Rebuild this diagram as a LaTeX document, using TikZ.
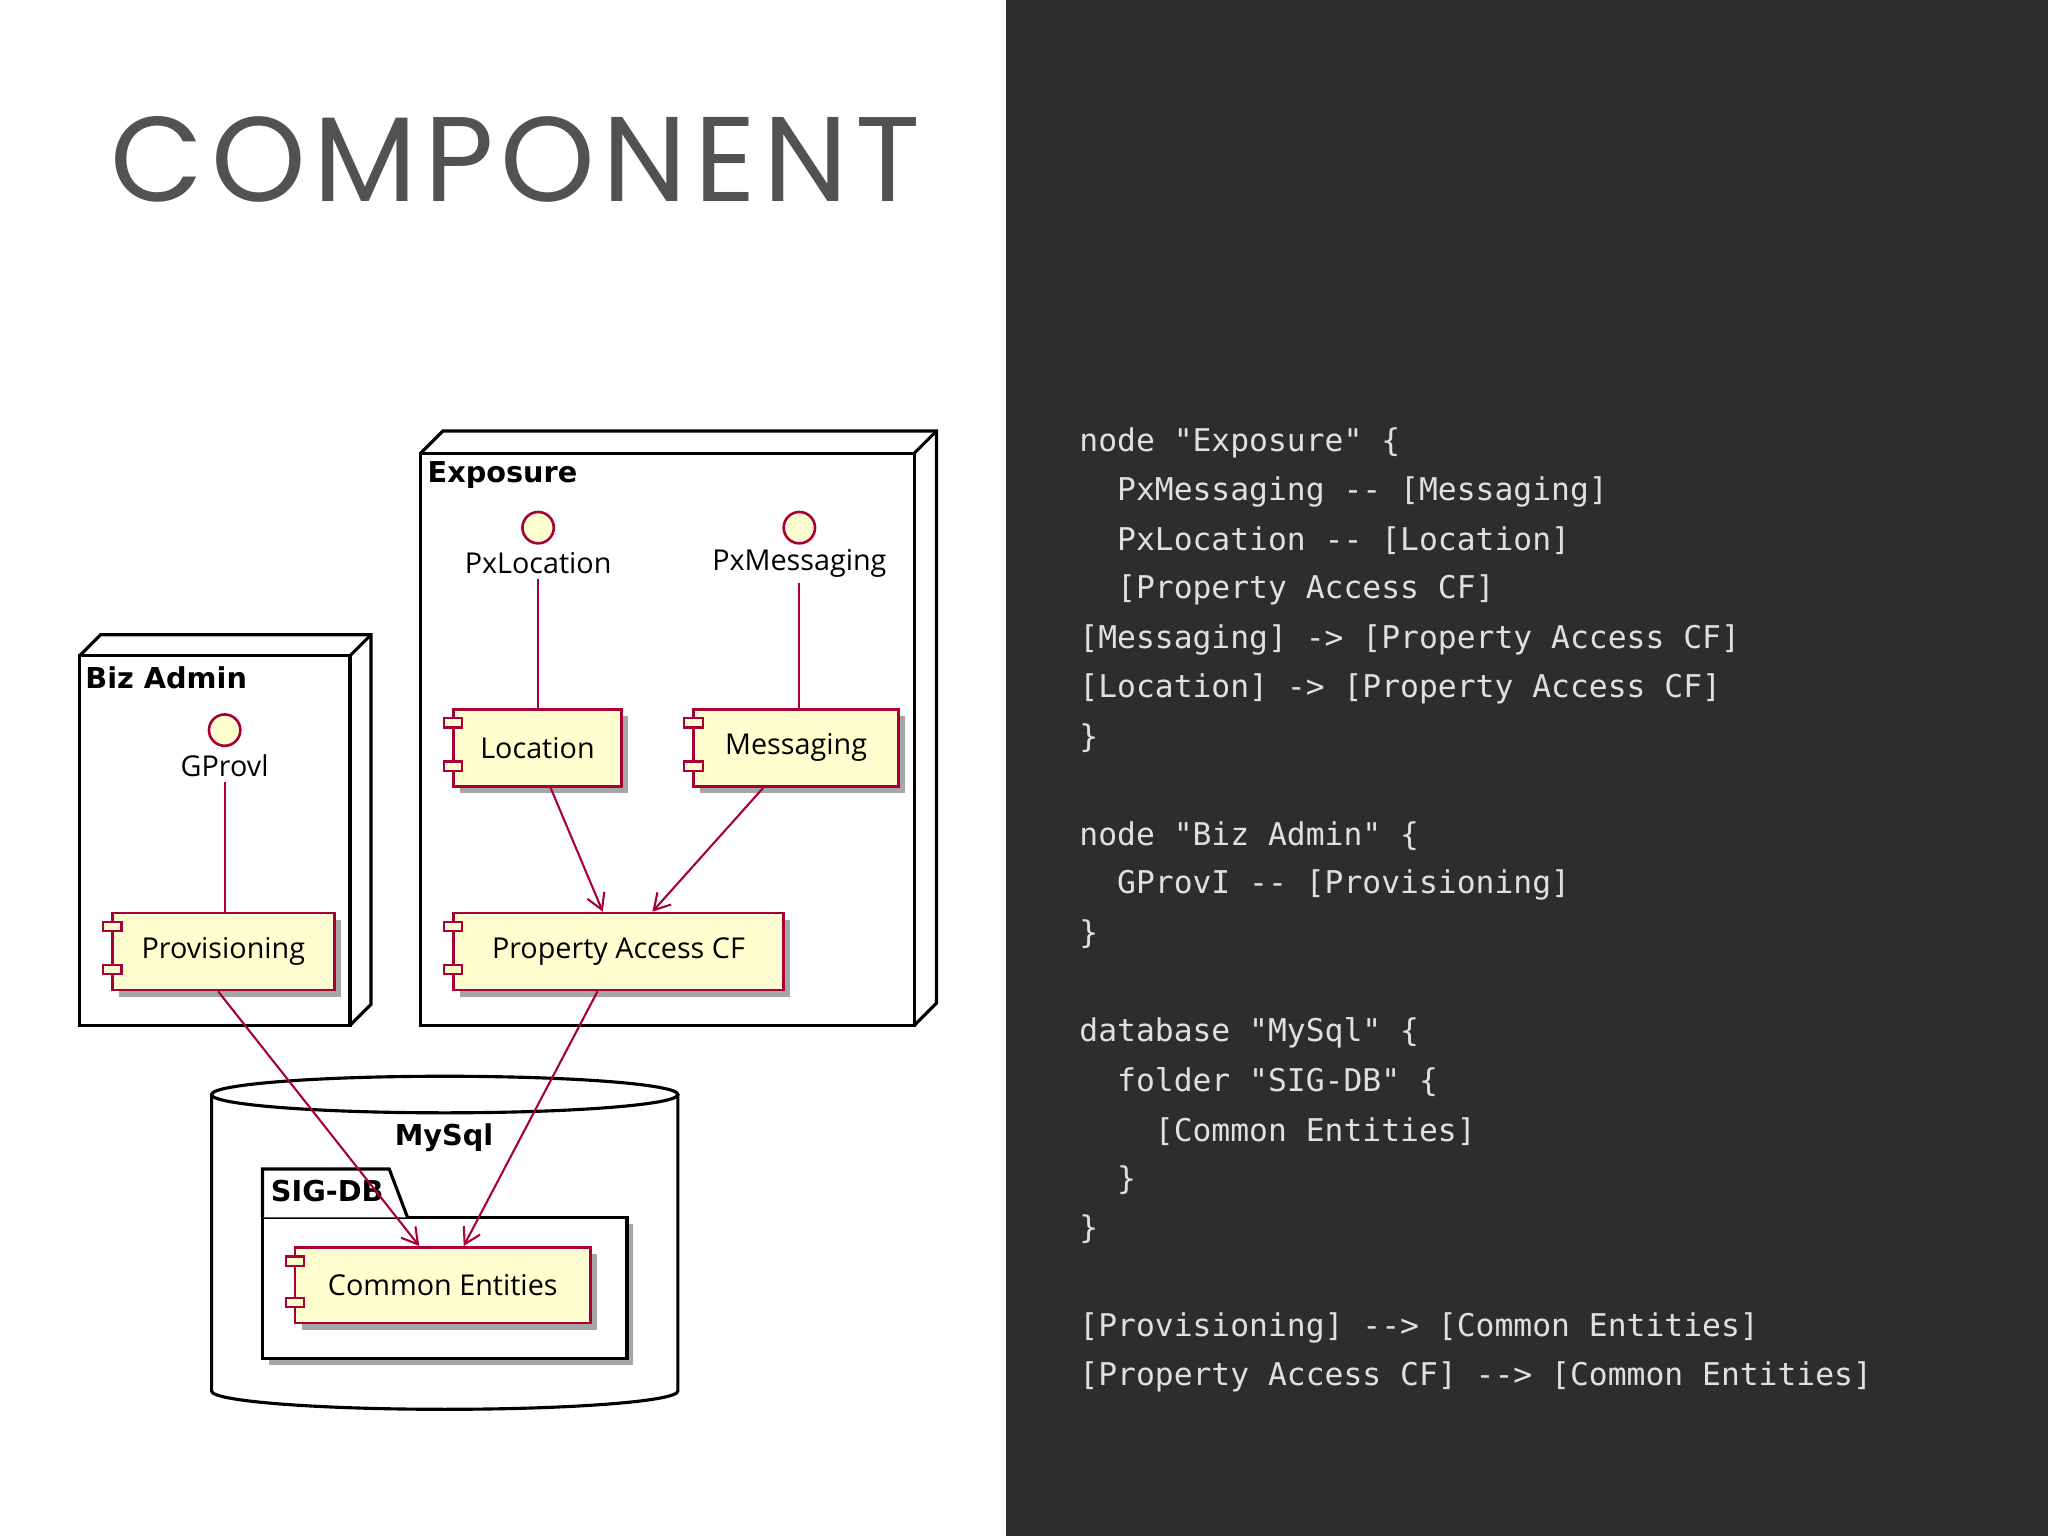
\documentclass[tikz,border=0pt]{standalone}
\usepackage{fontspec}
\setmainfont{Open Sans}
\newfontfamily\boldf{DejaVu Sans}
\newfontfamily\codef{DejaVu Sans Mono}
\newfontfamily\titlef[LetterSpace=6]{Poppins}
\usetikzlibrary{shadows,arrows.meta}
\definecolor{cred}{HTML}{A80036}
\definecolor{cyel}{HTML}{FEFECE}
\definecolor{dark}{HTML}{2D2D2D}
\tikzset{
 comp/.style={draw=cred,fill=cyel,line width=1pt,drop shadow={shadow xshift=2.5pt,shadow yshift=-2.5pt,fill=black!35,opacity=1},font=\fontsize{11}{13}\selectfont,inner sep=0pt},
 tiny/.style={draw=cred,fill=cyel,line width=0.8pt},
 box/.style={draw=black,fill=white,line width=1.2pt},
 link/.style={cred,line width=0.8pt},
 arr/.style={cred,line width=0.8pt,-{Straight Barb[length=6pt,width=7pt]}},
 iface/.style={circle,draw=cred,fill=cyel,line width=1pt,minimum size=12pt,inner sep=0pt},
 ilab/.style={font=\fontsize{11}{13}\selectfont,inner sep=0pt},
 ttl/.style={font=\boldf\bfseries\fontsize{11}{13}\selectfont,anchor=west,inner sep=0pt},
 code/.style={font=\codef\fontsize{12}{14}\selectfont,text=white!88!black,anchor=west,inner sep=0pt}
}
\newcommand\comp[6]{%
 \node[comp,minimum width={(#4-#2)*0.5pt},minimum height={(#5-#3)*0.5pt}] (#1) at ({(#2+#4)/2},{(#3+#5)/2}) {#6};
 \draw[tiny] (#2-7,#3+7) rectangle (#2+7,#3+14);
 \draw[tiny] (#2-7,#5-19) rectangle (#2+7,#5-12);
}
\begin{document}
\begin{tikzpicture}[x=0.5pt,y=-0.5pt]
\fill[white] (0,0) rectangle (770,1176);
\fill[dark] (770,0) rectangle (1568,1176);
\node[text=black!68,inner sep=0pt] (title) at (395,122) {\resizebox{310pt}{!}{\titlef\fontsize{40}{40}\selectfont COMPONENT}};
% Exposure
\draw[box] (322,347) -- (339,330) -- (717,330) -- (717,768) -- (700,785) -- (322,785) -- cycle;
\draw[box] (322,347) rectangle (700,785);
\draw[box] (700,347) -- (717,330);
\node[ttl] (exp) at (327,364) {Exposure};
% Biz admin
\draw[box] (61,502) -- (77,486) -- (284,486) -- (284,769) -- (268,785) -- (61,785) -- cycle;
\draw[box] (61,502) rectangle (268,785);
\draw[box] (268,502) -- (284,486);
\node[ttl] (biz) at (65,519) {Biz Admin};
% MySql
\draw[box,fill=white] (162,838) -- (162,1065) arc[start angle=180,end angle=0,x radius=178.5,y radius=14] -- (519,838);
\draw[box] (340.5,838) ellipse [x radius=178.5,y radius=14];
\node[ttl,anchor=center] (mysql) at (340,871) {MySql};
\draw[box,drop shadow={shadow xshift=2.5pt,shadow yshift=-2.5pt,fill=black!35,opacity=1}] (201,932) rectangle (480,1040);
\draw[box] (201,932) -- (201,895) -- (298,895) -- (312,932);
\node[ttl] (sig) at (207,912) {SIG-DB};
% interfaces
\node[iface] (pxl) at (412,404) {};
\node[ilab] (pxlt) at (412,431) {PxLocation};
\node[iface] (pxm) at (612,404) {};
\node[ilab] (pxmt) at (612,431) {PxMessaging};
\node[iface] (gp) at (172,559) {};
\node[ilab] (gpt) at (172,586) {GProvl};
% components
\comp{loc}{347}{543}{476}{602}{Location}
\comp{msg}{531}{543}{688}{602}{Messaging}
\comp{pac}{347}{699}{600}{758}{Property Access CF}
\comp{prov}{86}{699}{256}{758}{Provisioning}
\comp{ce}{226}{955}{452}{1013}{Common Entities}
% links
\draw[link] (pxlt.south) ++(0,4) coordinate (a1) -- (a1 |- loc.north);
\draw[link] (pxmt.south) ++(0,4) coordinate (a2) -- (a2 |- msg.north);
\draw[link] (gpt.south) ++(0,4) coordinate (a3) -- (a3 |- prov.north);
\draw[arr] (loc.south) ++(10,0) coordinate (b1) -- ([xshift=-6pt]pac.north);
\draw[arr] (msg.south) ++(-25,0) coordinate (b2) -- ([xshift=13pt]pac.north);
\draw[arr] ([xshift=-2pt]prov.south) -- ([xshift=-9pt]ce.north);
\draw[arr] ([xshift=-8pt]pac.south) -- ([xshift=8pt]ce.north);
% code
\foreach \t [count=\i from 0] in {%
{node "Exposure" \{},
{\ \ PxMessaging -- [Messaging]},
{\ \ PxLocation -- [Location]},
{\ \ [Property Access CF]},
{[Messaging] -> [Property Access CF]},
{[Location] -> [Property Access CF]},
{\}},{},
{node "Biz Admin" \{},
{\ \ GProvI -- [Provisioning]},
{\}},{},
{database "MySql" \{},
{\ \ folder "SIG-DB" \{},
{\ \ \ \ [Common Entities]},
{\ \ \}},
{\}},{},
{[Provisioning] --> [Common Entities]},
{[Property Access CF] --> [Common Entities]}}
 \node[code] (c\i) at (826,{339+37.65*\i}) {\t};
\end{tikzpicture}
\end{document}
